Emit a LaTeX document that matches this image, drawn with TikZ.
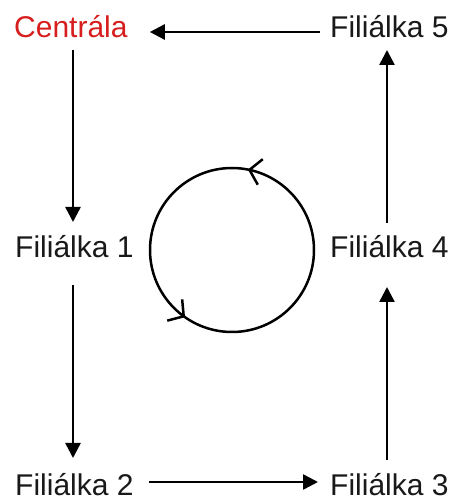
\documentclass[tikz,border=0pt]{standalone}
\usepackage{fontspec}
\setmainfont{Liberation Sans}
\usetikzlibrary{arrows.meta,decorations.markings}
\definecolor{cred}{RGB}{215,30,30}
\definecolor{ctxt}{RGB}{25,25,25}
\begin{document}
\begin{tikzpicture}[x=1pt,y=1pt,
  lbl/.style={anchor=base west,inner sep=0pt,text=ctxt,font=\fontsize{30}{36}\selectfont},
  arr/.style={line width=2.5pt,-{Triangle[length=15pt,width=15pt]}},
  cyc/.style={line width=2.5pt,postaction={decorate},
    decoration={markings,
      mark=at position 0.219 with {\arrow{Straight Barb[length=11pt,width=26pt,line width=2.5pt]}},
      mark=at position 0.653 with {\arrow{Straight Barb[length=11pt,width=26pt,line width=2.5pt]}}}}]
\useasboundingbox[fill=white] (0,0) rectangle (453,500);
\coordinate (L) at (73,0);
\coordinate (R) at (387,0);
\node[lbl,text=cred] (c)  at (14,462) {Centrála};
\node[lbl] (f5) at (330,462) {Filiálka 5};
\node[lbl] (f1) at (15,242)  {Filiálka 1};
\node[lbl] (f4) at (330,242) {Filiálka 4};
\node[lbl] (f2) at (15,5)    {Filiálka 2};
\node[lbl] (f3) at (330,5)   {Filiálka 3};
\draw[arr] ([shift={(-10pt,6pt)}]f5.base west) -- ([shift={(22pt,6pt)}]c.base east);
\draw[arr] ([yshift=-12pt]c.base -| L) -- ([yshift=36pt]f1.base -| L);
\draw[arr] ([yshift=-27pt]f1.base -| L) -- ([yshift=37pt]f2.base -| L);
\draw[arr] ([shift={(15pt,13pt)}]f2.base east) -- ([shift={(-12pt,13pt)}]f3.base west);
\draw[arr] ([yshift=35pt]f3.base -| R) -- ([yshift=-29pt]f4.base -| R);
\draw[arr] ([yshift=35pt]f4.base -| R) -- ([yshift=-12pt]f5.base -| R);
\draw[cyc] (232,250) circle[radius=82pt];
\end{tikzpicture}
\end{document}
